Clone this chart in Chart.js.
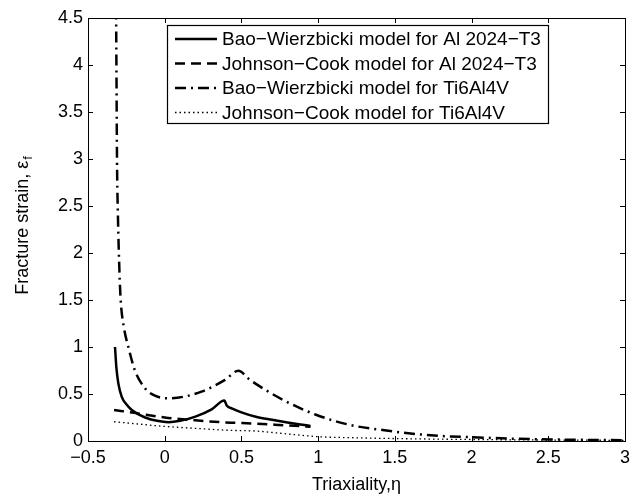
<!DOCTYPE html>
<html>
<head>
<meta charset="utf-8">
<script src="https://cdn.jsdelivr.net/npm/chart.js@4"></script>
<style>
html,body{margin:0;padding:0;background:#fff;}
#wrap{width:641px;height:499px;position:relative;}
</style>
</head>
<body>
<div id="wrap"><canvas id="c" width="641" height="499"></canvas></div>
<script>
// ---- data ----
const seriesNames = [
  "Bao\u2212Wierzbicki model for Al 2024\u2212T3",
  "Johnson\u2212Cook model for Al 2024\u2212T3",
  "Bao\u2212Wierzbicki model for Ti6Al4V",
  "Johnson\u2212Cook model for Ti6Al4V"
];
const alBwX = [-0.324,-0.315,-0.302,-0.28,-0.25,-0.215,-0.128,-0.05,0.024,0.1,0.2,0.306,0.389,0.404,0.44,0.5,0.6,0.7,0.8,0.9,0.95];
const alBwY = [1.0,0.78,0.61,0.47,0.39,0.33,0.25,0.215,0.2,0.215,0.26,0.337,0.43,0.378,0.345,0.305,0.255,0.225,0.197,0.172,0.16];
const alJcX = [-0.33,-0.2,0.0,0.2,0.4,0.6,0.8,0.95];
const alJcY = [0.33,0.3,0.25,0.22,0.197,0.185,0.165,0.152];
const tiBwX = [-0.317,-0.314,-0.311,-0.305,-0.295,-0.287,-0.265,-0.237,-0.194,-0.128,-0.06,0.024,0.12,0.24,0.393,0.48,0.556,0.773,0.99,1.21,1.42,1.64,1.81,2.0,2.38,2.7,3.0];
const tiBwY = [4.6,3.8,3.0,2.4,1.8,1.5,1.2,1.0,0.75,0.56,0.48,0.454,0.47,0.525,0.65,0.748,0.65,0.436,0.277,0.17,0.117,0.074,0.053,0.04,0.02,0.013,0.008];
const tiJcX = [-0.33,-0.2,0.0,0.2,0.4,0.6,0.8,1.0,1.25,1.5,2.0,2.5,3.0];
const tiJcY = [0.205,0.185,0.155,0.135,0.115,0.105,0.075,0.046,0.034,0.026,0.016,0.01,0.007];
const xTicks = [-0.5,0,0.5,1,1.5,2,2.5,3];
const yTicks = [0,0.5,1,1.5,2,2.5,3,3.5,4,4.5];
const xTitle = "Triaxiality,\u03B7";
const yTitle = "Fracture strain, \u03B5";
const yTitleSub = "f";

const FONT = "'Liberation Sans', Arial, Helvetica, sans-serif";
const dashes = [[], [10,6], [11,5,2,5], [1.5,3]];
const widths = [2.5, 2.5, 2.5, 1.3];

function pts(xs, ys){ return xs.map((x,i)=>({x:x,y:ys[i]})); }
const dataSets = [pts(alBwX,alBwY), pts(alJcX,alJcY), pts(tiBwX,tiBwY), pts(tiJcX,tiJcY)];

const fmt = v => { const s = String(v); return s.startsWith('-') ? '\u2212'+s.slice(1) : s; };

const framePlugin = {
  id:'frame',
  afterDraw(chart){
    const ctx = chart.ctx, a = chart.chartArea;
    const xs = chart.scales.x, ys = chart.scales.y;
    ctx.save();
    ctx.strokeStyle = '#000'; ctx.lineWidth = 1; ctx.setLineDash([]);
    ctx.strokeRect(Math.round(a.left)+0.5, Math.round(a.top)+0.5, Math.round(a.right-a.left), Math.round(a.bottom-a.top));
    const tl = 5;
    ctx.beginPath();
    xTicks.forEach(v=>{
      const px = Math.round(xs.getPixelForValue(v))+0.5;
      ctx.moveTo(px,a.bottom); ctx.lineTo(px,a.bottom-tl);
      ctx.moveTo(px,a.top); ctx.lineTo(px,a.top+tl);
    });
    yTicks.forEach(v=>{
      const py = Math.round(ys.getPixelForValue(v))+0.5;
      ctx.moveTo(a.left,py); ctx.lineTo(a.left+tl,py);
      ctx.moveTo(a.right,py); ctx.lineTo(a.right-tl,py);
    });
    ctx.stroke();
    // axis titles
    ctx.fillStyle = '#000';
    ctx.font = '18px ' + FONT;
    ctx.textAlign = 'center'; ctx.textBaseline = 'middle';
    ctx.fillText(xTitle, (a.left+a.right)/2, 485);
    ctx.save();
    ctx.translate(23, (a.top+a.bottom)/2 - 4);
    ctx.rotate(-Math.PI/2);
    const w1 = ctx.measureText(yTitle).width;
    ctx.font = '13px ' + FONT;
    const w2 = ctx.measureText(yTitleSub).width;
    const total = w1 + w2 + 1;
    ctx.textAlign = 'left';
    ctx.font = '18px ' + FONT;
    ctx.fillText(yTitle, -total/2, 0);
    ctx.font = '13px ' + FONT;
    ctx.fillText(yTitleSub, -total/2 + w1 + 1, 5);
    ctx.restore();
    // legend
    const L = 167, T = 25, R = 548, B = 123;
    ctx.fillStyle = '#fff';
    ctx.fillRect(L, T, R-L, B-T);
    ctx.strokeStyle = '#000'; ctx.lineWidth = 1.2;
    ctx.strokeRect(L+0.5, T+0.5, R-L, B-T);
    const rows = [39, 63.5, 88, 112.5];
    ctx.font = '19px ' + FONT; ctx.fillStyle = '#000';
    ctx.textAlign = 'left'; ctx.textBaseline = 'middle';
    seriesNames.forEach((n,i)=>{
      ctx.beginPath();
      ctx.setLineDash(dashes[i]);
      ctx.lineWidth = widths[i];
      ctx.moveTo(175, rows[i]); ctx.lineTo(217, rows[i]);
      ctx.stroke();
      ctx.setLineDash([]);
      ctx.fillText(n, 222, rows[i]+1);
    });
    ctx.restore();
  }
};

new Chart(document.getElementById('c'), {
  type:'line',
  data:{
    datasets: dataSets.map((d,i)=>({
      label: seriesNames[i],
      data: d,
      borderColor:'#000',
      backgroundColor:'#000',
      borderWidth: widths[i],
      borderDash: dashes[i],
      pointRadius:0,
      fill:false,
      cubicInterpolationMode:'monotone'
    }))
  },
  options:{
    responsive:false,
    animation:false,
    layout:{padding:{left:0,right:16,top:18,bottom:0}},
    plugins:{legend:{display:false}, tooltip:{enabled:false}},
    scales:{
      x:{
        type:'linear', min:-0.5, max:3,
        afterBuildTicks(s){ s.ticks = xTicks.map(v=>({value:v})); },
        afterFit(s){ s.height = 58; },
        grid:{display:false, drawTicks:false},
        border:{display:false},
        ticks:{color:'#000', font:{family:FONT, size:18}, padding:6, maxRotation:0, autoSkip:false, callback:v=>fmt(v)}
      },
      y:{
        type:'linear', min:0, max:4.5,
        afterBuildTicks(s){ s.ticks = yTicks.map(v=>({value:v})); },
        afterFit(s){ s.width = 88; },
        grid:{display:false, drawTicks:false},
        border:{display:false},
        ticks:{color:'#000', font:{family:FONT, size:18}, padding:5, autoSkip:false, callback:v=>fmt(v)}
      }
    }
  },
  plugins:[framePlugin]
});
</script>
</body>
</html>
